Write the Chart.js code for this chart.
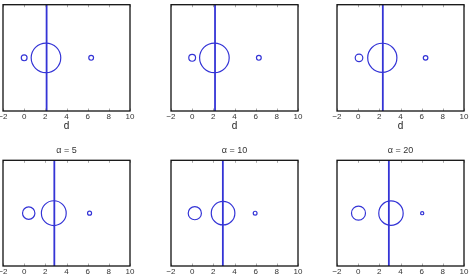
<!DOCTYPE html>
<html>
<head>
<meta charset="utf-8">
<script src="https://cdn.jsdelivr.net/npm/chart.js@4"></script>
<style>
  body { margin: 0; width: 469px; height: 276px; background: #fff; position: relative; overflow: hidden; }
  canvas { position: absolute; }
</style>
</head>
<body>
<script>
// one entry per panel, top row first
const panelTitles = ["", "", "", "α = 5", "α = 10", "α = 20"];
const xLabels = ["d", "d", "d", "", "", ""];
const lineX = [2.12, 2.16, 2.33, 2.85, 2.9, 2.9];
const circleX = [
  [0.0, 2.06, 6.33],
  [0.0, 2.1, 6.3],
  [0.08, 2.28, 6.37],
  [0.43, 2.8, 6.18],
  [0.25, 2.92, 5.95],
  [0.03, 3.1, 6.05]
];
const circleR = [
  [2.9, 14.8, 2.4],
  [3.4, 14.8, 2.4],
  [3.8, 14.6, 2.3],
  [6.2, 12.4, 2.0],
  [6.6, 11.8, 1.9],
  [7.0, 12.2, 1.6]
];
const xTicks = [-2, 0, 2, 4, 6, 8, 10];

const blue = "#3434d6";
const colLefts = [3.3, 170.7, 337.3];
const boxW = 127;

const boxPlugin = {
  id: "box",
  afterDraw(chart) {
    const a = chart.chartArea;
    const ctx = chart.ctx;
    const xs = chart.scales.x;
    ctx.save();
    ctx.strokeStyle = "#aaa";
    ctx.lineWidth = 1;
    xs.ticks.forEach(t => {
      const px = Math.round(xs.getPixelForValue(t.value)) + 0.5;
      ctx.beginPath();
      ctx.moveTo(px, a.bottom); ctx.lineTo(px, a.bottom - 2.5);
      ctx.moveTo(px, a.top); ctx.lineTo(px, a.top + 2.5);
      ctx.stroke();
    });
    ctx.strokeStyle = "#111";
    ctx.lineWidth = 1.3;
    ctx.strokeRect(a.left, a.top, a.right - a.left, a.bottom - a.top);
    ctx.restore();
  }
};

function makePanel(i) {
  const row = Math.floor(i / 3);
  const col = i % 3;
  const padL = 12, padR = 12;
  const cv = document.createElement("canvas");
  let top, padT, h, axisH;
  if (row === 0) {
    top = 0; padT = 4.7; axisH = 21; h = 4.7 + 106.3 + axisH;
  } else {
    top = 138; padT = 7.3; axisH = 10; h = 138;
  }
  const w = boxW + padL + padR;
  cv.width = w; cv.height = Math.round(h);
  cv.style.left = (colLefts[col] - padL) + "px";
  cv.style.top = top + "px";
  document.body.appendChild(cv);

  const bubbles = circleX[i].map((x, k) => ({ x: x, y: 0, r: circleR[i][k] }));

  new Chart(cv, {
    type: "scatter",
    data: {
      datasets: [
        {
          type: "bubble",
          data: bubbles,
          backgroundColor: "rgba(0,0,0,0)",
          borderColor: blue,
          borderWidth: 1.2,
          hoverRadius: 0
        },
        {
          type: "line",
          data: [{ x: lineX[i], y: -1 }, { x: lineX[i], y: 1 }],
          borderColor: blue,
          borderWidth: 1.8,
          pointRadius: 0,
          fill: false
        }
      ]
    },
    options: {
      responsive: false,
      devicePixelRatio: 1,
      animation: false,
      events: [],
      layout: { autoPadding: false, padding: { left: padL, right: padR, top: padT, bottom: 0 } },
      plugins: {
        legend: { display: false },
        tooltip: { enabled: false },
        title: {
          display: panelTitles[i] !== "",
          text: panelTitles[i],
          color: "#333",
          font: { family: "Liberation Sans", size: 9, weight: "normal" },
          padding: { top: 0, bottom: 4.2 }
        }
      },
      scales: {
        x: {
          type: "linear",
          min: -2, max: 10,
          afterBuildTicks(scale) { scale.ticks = xTicks.map(v => ({ value: v })); },
          afterFit(scale) { scale.height = axisH; scale.paddingLeft = 0; scale.paddingRight = 0; },
          grid: { display: false, drawTicks: false },
          border: { display: false },
          ticks: {
            autoSkip: false, maxRotation: 0, padding: 1,
            color: "#333",
            font: { family: "Liberation Sans", size: 8 },
            callback: v => v < 0 ? "\u2212" + Math.abs(v) : String(v)
          },
          title: {
            display: xLabels[i] !== "",
            text: xLabels[i],
            color: "#222",
            font: { family: "Liberation Sans", size: 10 },
            padding: 0
          }
        },
        y: { display: false, min: -1, max: 1 }
      }
    },
    plugins: [boxPlugin]
  });
}

for (let i = 0; i < 6; i++) makePanel(i);
</script>
</body>
</html>
